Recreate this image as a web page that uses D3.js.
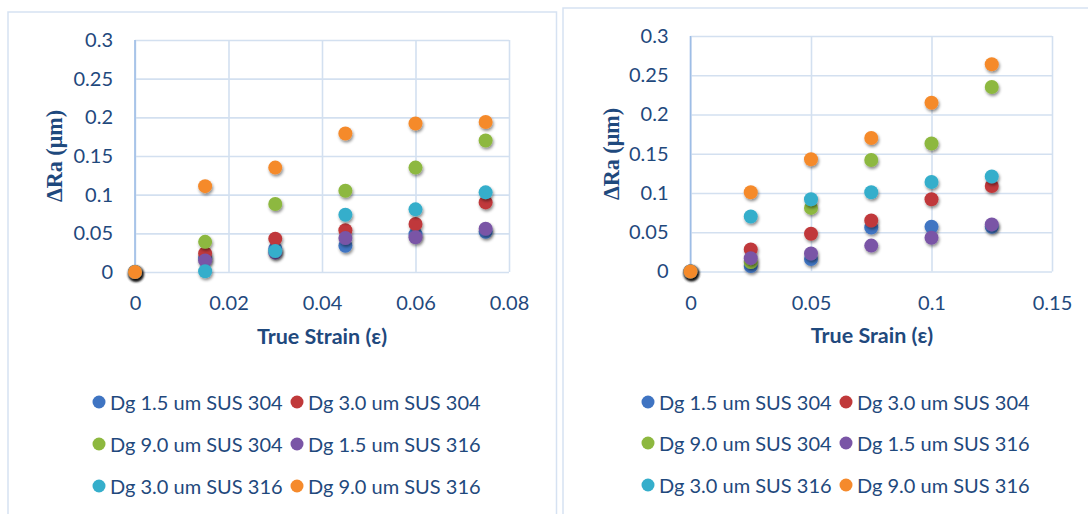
<!DOCTYPE html>
<html>
<head>
<meta charset="utf-8">
<script src="https://cdn.jsdelivr.net/npm/d3@7"></script>
<style>
  html, body { margin: 0; padding: 0; background: #fff; }
  svg { display: block; }
  text { font-family: Lato, "Noto Sans", sans-serif; fill: #1F497D; }
</style>
</head>
<body>
<svg id="chart" width="1088" height="514"></svg>
<script>
// Series names and colours (shared by both panels)
const seriesNames = [
  "Dg 1.5 um SUS 304", "Dg 3.0 um SUS 304", "Dg 9.0 um SUS 304",
  "Dg 1.5 um SUS 316", "Dg 3.0 um SUS 316", "Dg 9.0 um SUS 316"
];
const seriesColors = ["#3F74C2", "#C0393A", "#8DB83F", "#7A55A6", "#35AECB", "#F58A2C"];

// Panel A: strain values and ΔRa (µm) per series
const strainA = [0, 0.015, 0.03, 0.045, 0.06, 0.075];
const raA_15_304 = [0, 0.018, 0.030, 0.034, 0.049, 0.052];
const raA_30_304 = [0, 0.024, 0.043, 0.054, 0.062, 0.090];
const raA_90_304 = [0, 0.039, 0.088, 0.105, 0.135, 0.170];
const raA_15_316 = [0, 0.015, 0.025, 0.044, 0.045, 0.056];
const raA_30_316 = [0, 0.001, 0.027, 0.074, 0.081, 0.103];
const raA_90_316 = [0, 0.111, 0.135, 0.179, 0.192, 0.194];
const ticksXA = [0, 0.02, 0.04, 0.06, 0.08];

// Panel B: strain values and ΔRa (µm) per series
const strainB = [0, 0.025, 0.05, 0.075, 0.1, 0.125];
const raB_15_304 = [0, 0.007, 0.016, 0.056, 0.057, 0.057];
const raB_30_304 = [0, 0.028, 0.048, 0.065, 0.092, 0.109];
const raB_90_304 = [0, 0.012, 0.081, 0.142, 0.163, 0.235];
const raB_15_316 = [0, 0.017, 0.023, 0.033, 0.043, 0.060];
const raB_30_316 = [0, 0.070, 0.092, 0.101, 0.114, 0.121];
const raB_90_316 = [0, 0.101, 0.143, 0.170, 0.215, 0.264];
const ticksXB = [0, 0.05, 0.1, 0.15];

const ticksY = [0, 0.05, 0.1, 0.15, 0.2, 0.25, 0.3];
const yTitle = "ΔRa (μm)";

const svg = d3.select("#chart");
const defs = svg.append("defs");
const shadow = defs.append("filter").attr("id", "mshadow")
  .attr("x", "-60%").attr("y", "-60%").attr("width", "220%").attr("height", "220%");
shadow.append("feDropShadow")
  .attr("dx", 1).attr("dy", 2).attr("stdDeviation", 1.6)
  .attr("flood-color", "#000").attr("flood-opacity", 0.45);

const gridColor = "#D3E0F0";
const axisColor = "#9DBDE6";

function panel(cfg) {
  const g = svg.append("g");
  // outer frame
  g.append("rect")
    .attr("x", cfg.frame[0]).attr("y", cfg.frame[1])
    .attr("width", cfg.frame[2]).attr("height", cfg.frame[3])
    .attr("fill", "none").attr("stroke", "#D6E2F2").attr("stroke-width", 1.5);

  const x = d3.scaleLinear().domain([0, cfg.xMax]).range([cfg.plot.left, cfg.plot.right]);
  const y = d3.scaleLinear().domain([0, 0.3]).range([cfg.plot.bottom, cfg.plot.top]);

  // horizontal gridlines
  const yAxis = d3.axisLeft(y).tickValues(ticksY)
    .tickSize(-(cfg.plot.right - cfg.plot.left)).tickPadding(22)
    .tickFormat(d3.format("~g"));
  const gy = g.append("g").attr("transform", `translate(${cfg.plot.left},0)`).call(yAxis);
  gy.select(".domain").remove();
  gy.selectAll(".tick line").attr("stroke", gridColor).attr("stroke-width", 1.6);
  gy.selectAll(".tick text").attr("font-size", 20).attr("fill", "#1F497D")
    .style("font-family", "Lato, sans-serif");

  // vertical gridlines
  const xAxis = d3.axisBottom(x).tickValues(cfg.ticksX)
    .tickSize(-(cfg.plot.bottom - cfg.plot.top)).tickPadding(24)
    .tickFormat(d3.format("~g"));
  const gx = g.append("g").attr("transform", `translate(0,${cfg.plot.bottom})`).call(xAxis);
  gx.select(".domain").remove();
  gx.selectAll(".tick line").attr("stroke", gridColor).attr("stroke-width", 1.6);
  gx.selectAll(".tick text").attr("font-size", 20).attr("fill", "#1F497D")
    .style("font-family", "Lato, sans-serif");

  // value axis line at x = 0
  g.append("line")
    .attr("x1", x(0)).attr("x2", x(0))
    .attr("y1", cfg.plot.top).attr("y2", cfg.plot.bottom)
    .attr("stroke", axisColor).attr("stroke-width", 1.6);

  // axis titles
  g.append("text")
    .attr("transform", `translate(${cfg.yTitleX},${cfg.yTitleY}) rotate(-90)`)
    .attr("text-anchor", "middle").attr("dominant-baseline", "central")
    .style("font-family", "'Liberation Serif', 'DejaVu Serif', serif")
    .attr("font-weight", "bold").attr("font-size", 23)
    .attr("textLength", 92).attr("lengthAdjust", "spacingAndGlyphs")
    .text(yTitle);
  g.append("text")
    .attr("x", cfg.xTitleX).attr("y", cfg.xTitleY)
    .attr("text-anchor", "middle")
    .attr("font-weight", "bold").attr("font-size", 21.5)
    .text(cfg.xTitle);

  // markers
  cfg.series.forEach((vals, i) => {
    g.append("g").selectAll("circle")
      .data(vals.map((v, k) => [cfg.strain[k], v]))
      .join("circle")
      .attr("cx", d => x(d[0])).attr("cy", d => y(d[1]))
      .attr("r", 7)
      .attr("fill", seriesColors[i])
      .attr("filter", "url(#mshadow)");
  });

  // legend: two columns, three rows
  const lg = g.append("g");
  seriesNames.forEach((name, i) => {
    const col = i % 2, row = Math.floor(i / 2);
    const cx = cfg.legend.x[col], cy = cfg.legend.y[row];
    lg.append("circle").attr("cx", cx).attr("cy", cy).attr("r", 6.5)
      .attr("fill", seriesColors[i]);
    lg.append("text").attr("x", cx + 11).attr("y", cy)
      .attr("dominant-baseline", "central").attr("font-size", 20)
      .text(name);
  });
}

panel({
  frame: [8, 12, 548.5, 520],
  plot: { left: 135, right: 509, top: 40, bottom: 272 },
  xMax: 0.08, ticksX: ticksXA, strain: strainA,
  series: [raA_15_304, raA_30_304, raA_90_304, raA_15_316, raA_30_316, raA_90_316],
  yTitleX: 54, yTitleY: 156,
  xTitle: "True Strain (ε)", xTitleX: 322, xTitleY: 344,
  legend: { x: [99, 297], y: [402, 444, 486] }
});

panel({
  frame: [563, 8, 540, 520],
  plot: { left: 690.5, right: 1052, top: 36, bottom: 271.5 },
  xMax: 0.15, ticksX: ticksXB, strain: strainB,
  series: [raB_15_304, raB_30_304, raB_90_304, raB_15_316, raB_30_316, raB_90_316],
  yTitleX: 611, yTitleY: 154,
  xTitle: "True Srain (ε)", xTitleX: 872, xTitleY: 343,
  legend: { x: [648, 846], y: [402, 443, 485] }
});
</script>
</body>
</html>
